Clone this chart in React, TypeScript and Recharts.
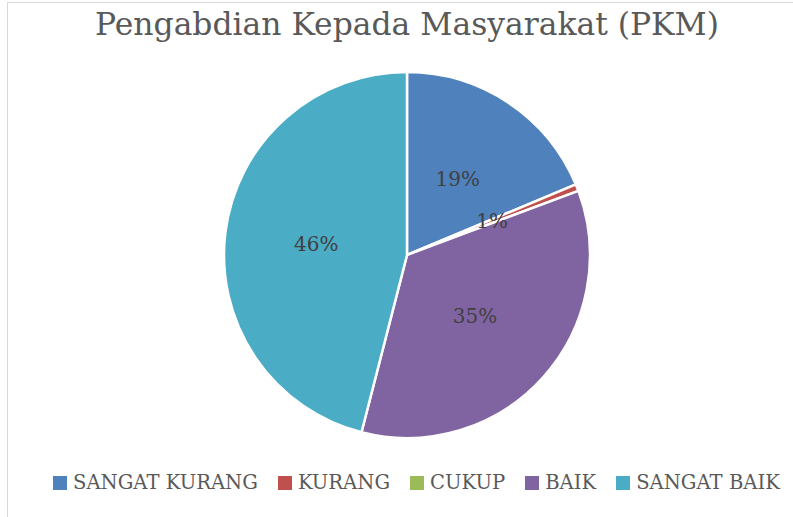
import React from 'react';
import { PieChart, Pie, Cell, Legend } from 'recharts';

const categories = ['SANGAT KURANG', 'KURANG', 'CUKUP', 'BAIK', 'SANGAT BAIK'];
const values = [18.7, 0.6, 0, 34.7, 46.0];
const colors = ['#4f81bd', '#c0504d', '#9bbb59', '#8064a2', '#4bacc6'];
const title = 'Pengabdian Kepada Masyarakat (PKM)';

const data = categories.map((name, i) => ({ name, value: values[i] }));
const total = values.reduce((a, b) => a + b, 0);

const FONT = '"DejaVu Serif", "Liberation Serif", serif';
const RAD = Math.PI / 180;

const renderLabel = (props: any) => {
  const { cx, cy, midAngle, outerRadius, value } = props;
  if (!value) return null;
  const r = outerRadius * 0.5;
  const x = cx + r * Math.cos(-midAngle * RAD);
  const y = cy + r * Math.sin(-midAngle * RAD);
  return (
    <text x={x} y={y} fill="#404040" fontFamily={FONT} fontSize={20} textAnchor="middle" dominantBaseline="central">
      {Math.round((value / total) * 100)}%
    </text>
  );
};

const renderLegend = () => (
  <div style={{ display: 'flex', justifyContent: 'flex-start', alignItems: 'center', fontFamily: FONT, fontSize: 19.6, color: '#595959', whiteSpace: 'nowrap' }}>
    {categories.map((c, i) => (
      <div key={c} style={{ display: 'flex', alignItems: 'center', marginRight: i < categories.length - 1 ? 20 : 0 }}>
        <span style={{ display: 'inline-block', width: 14, height: 14, background: colors[i], marginRight: 6 }} />
        <span>{c}</span>
      </div>
    ))}
  </div>
);

export default function App() {
  return (
    <div style={{ position: 'absolute', left: 0, top: 0, width: 793, height: 517, background: '#fff', overflow: 'hidden' }}>
      <div style={{ position: 'absolute', left: 7, top: 2, width: 786, height: 515, borderTop: '1px solid #d9d9d9', borderLeft: '1px solid #d9d9d9' }} />
      <div style={{ position: 'absolute', left: 0, top: 6, width: 814, textAlign: 'center', fontFamily: FONT, fontSize: 31.4, color: '#595959', whiteSpace: 'nowrap' }}>
        {title}
      </div>
      <PieChart width={793} height={517} margin={{ top: 0, right: 0, bottom: 0, left: 0 }} style={{ position: 'absolute', left: 0, top: 0 }}>
        <Pie
          data={data}
          dataKey="value"
          nameKey="name"
          cx={407}
          cy={255}
          outerRadius={183}
          startAngle={90}
          endAngle={-270}
          stroke="#ffffff"
          strokeWidth={2.5}
          label={renderLabel}
          labelLine={false}
          isAnimationActive={false}
        >
          {data.map((d, i) => (
            <Cell key={d.name} fill={colors[i]} />
          ))}
        </Pie>
        <Legend content={renderLegend} verticalAlign="bottom" wrapperStyle={{ position: 'absolute', left: 53, top: 471, width: 760 }} />
      </PieChart>
    </div>
  );
}
